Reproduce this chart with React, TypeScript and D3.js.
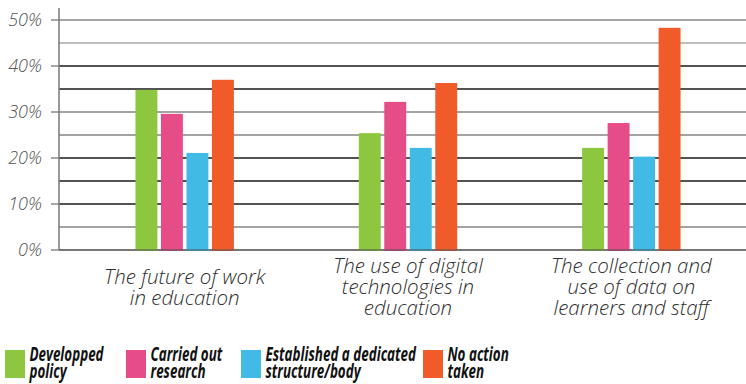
import React, { useEffect, useRef } from 'react';
import * as d3 from 'd3';

// chart data
const categories = [
  ['The future of work', 'in education'],
  ['The use of digital', 'technologies in', 'education'],
  ['The collection and', 'use of data on', 'learners and staff'],
];
const seriesNames = [
  ['Developped', 'policy'],
  ['Carried out', 'research'],
  ['Established a dedicated', 'structure/body'],
  ['No action', 'taken'],
];
const developedPolicy = [34.8, 25.4, 22.2];
const carriedOutResearch = [29.6, 32.2, 27.6];
const dedicatedStructure = [21.1, 22.2, 20.3];
const noActionTaken = [37.0, 36.3, 48.3];
const yTicks = [0, 10, 20, 30, 40, 50];
const gridTicks = [0, 5, 10, 15, 20, 25, 30, 35, 40, 45, 50];

const colors = ['#8DC63F', '#E64C87', '#41BBE6', '#F15A29'];

const App = () => {
  const svgRef = useRef<SVGSVGElement | null>(null);

  useEffect(() => {
    document.body.style.margin = '0';
    if (!svgRef.current) return;

    const width = 746;
    const height = 384;
    const axisX = 59;
    const series = [developedPolicy, carriedOutResearch, dedicatedStructure, noActionTaken];

    const svg = d3.select(svgRef.current)
      .attr('width', width)
      .attr('height', height)
      .style('display', 'block');
    svg.selectAll('*').remove();

    const y = d3.scaleLinear().domain([0, 50]).range([250, 20]);
    const x0 = d3.scaleBand<number>().domain(d3.range(categories.length)).range([73, 743]);
    const x1 = d3.scaleBand<number>()
      .domain(d3.range(series.length))
      .range([0, 102])
      .paddingInner(0.14)
      .paddingOuter(0.07);
    const groupOffset = (x0.bandwidth() - 102) / 2;

    // gridlines (the reference alternates grey and dark lines)
    const darkLines = new Set([10, 15, 20, 35, 40]);
    svg.append('g')
      .selectAll('line')
      .data(gridTicks)
      .enter()
      .append('line')
      .attr('x1', axisX)
      .attr('x2', width)
      .attr('y1', d => y(d))
      .attr('y2', d => y(d))
      .style('stroke', d => (darkLines.has(d) ? '#1a1a1a' : d === 45 ? '#a8a8a8' : '#858585'))
      .style('stroke-width', 1.3);

    // tick marks for labelled values
    svg.append('g')
      .selectAll('line')
      .data(yTicks)
      .enter()
      .append('line')
      .attr('x1', axisX - 8)
      .attr('x2', axisX)
      .attr('y1', d => y(d))
      .attr('y2', d => y(d))
      .style('stroke', '#777')
      .style('stroke-width', 1.3);

    // bars
    const groups = svg.append('g')
      .selectAll('g')
      .data(categories.map((_, i) => i))
      .enter()
      .append('g')
      .attr('transform', i => `translate(${(x0(i) ?? 0) + groupOffset},0)`);

    groups.selectAll('rect')
      .data(ci => series.map((s, si) => ({ si, v: s[ci] })))
      .enter()
      .append('rect')
      .attr('x', d => x1(d.si) ?? 0)
      .attr('width', x1.bandwidth())
      .attr('y', d => y(d.v))
      .attr('height', d => y(0) - y(d.v) + 1)
      .style('fill', d => colors[d.si]);

    // baseline and vertical axis over bars
    svg.append('line')
      .attr('x1', axisX)
      .attr('x2', width)
      .attr('y1', y(0))
      .attr('y2', y(0))
      .style('stroke', '#555')
      .style('stroke-opacity', 0.75)
      .style('stroke-width', 1.5);
    svg.append('line')
      .attr('x1', axisX)
      .attr('x2', axisX)
      .attr('y1', 8)
      .attr('y2', y(0))
      .style('stroke', '#777')
      .style('stroke-width', 1.5);

    // y labels
    svg.append('g')
      .selectAll('text')
      .data(yTicks)
      .enter()
      .append('text')
      .attr('x', 42)
      .attr('y', d => y(d))
      .attr('dy', '0.36em')
      .attr('text-anchor', 'end')
      .style('font-family', '"Open Sans", sans-serif')
      .style('font-style', 'italic')
      .style('font-weight', 300)
      .style('font-size', '18px')
      .style('fill', '#555')
      .text(d => `${d}%`);

    // category labels, vertically centered around one middle line
    const catLabels = svg.append('g')
      .selectAll('text')
      .data(categories.map((lines, i) => ({ lines, i })))
      .enter()
      .append('text')
      .attr('text-anchor', 'middle')
      .style('font-family', '"Open Sans", sans-serif')
      .style('font-style', 'italic')
      .style('font-weight', 300)
      .style('font-size', '20.5px')
      .style('fill', '#2e2e2e');
    catLabels.each(function (d) {
      const cx = (x0(d.i) ?? 0) + x0.bandwidth() / 2;
      const lineH = 21;
      const firstY = 294 - ((d.lines.length - 1) * lineH) / 2;
      d3.select(this)
        .selectAll('tspan')
        .data(d.lines)
        .enter()
        .append('tspan')
        .attr('x', cx)
        .attr('y', (_, li) => firstY + li * lineH)
        .text(t => t);
    });

    // legend - condensed bold italic, squeezed with textLength
    const legendX = [5, 126, 241, 423];
    const legend = svg.append('g')
      .selectAll('g')
      .data(seriesNames.map((lines, i) => ({ lines, i })))
      .enter()
      .append('g')
      .attr('transform', d => `translate(${legendX[d.i]},350)`);
    legend.append('rect')
      .attr('width', 20)
      .attr('height', 28)
      .style('fill', d => colors[d.i]);
    legend.each(function (d) {
      const g = d3.select(this);
      d.lines.forEach((line, li) => {
        const t = g.append('text')
          .attr('x', 24.5)
          .attr('y', 10.5 + li * 17)
          .style('font-family', '"Open Sans", sans-serif')
          .style('font-style', 'italic')
          .style('font-weight', 700)
          .style('font-size', '20px')
          .style('fill', '#111')
          .text(line);
        const natural = (t.node() as SVGTextElement).getComputedTextLength();
        t.attr('textLength', natural * 0.67).attr('lengthAdjust', 'spacingAndGlyphs');
      });
    });
  }, []);

  return <svg ref={svgRef}></svg>;
};

export default App;
